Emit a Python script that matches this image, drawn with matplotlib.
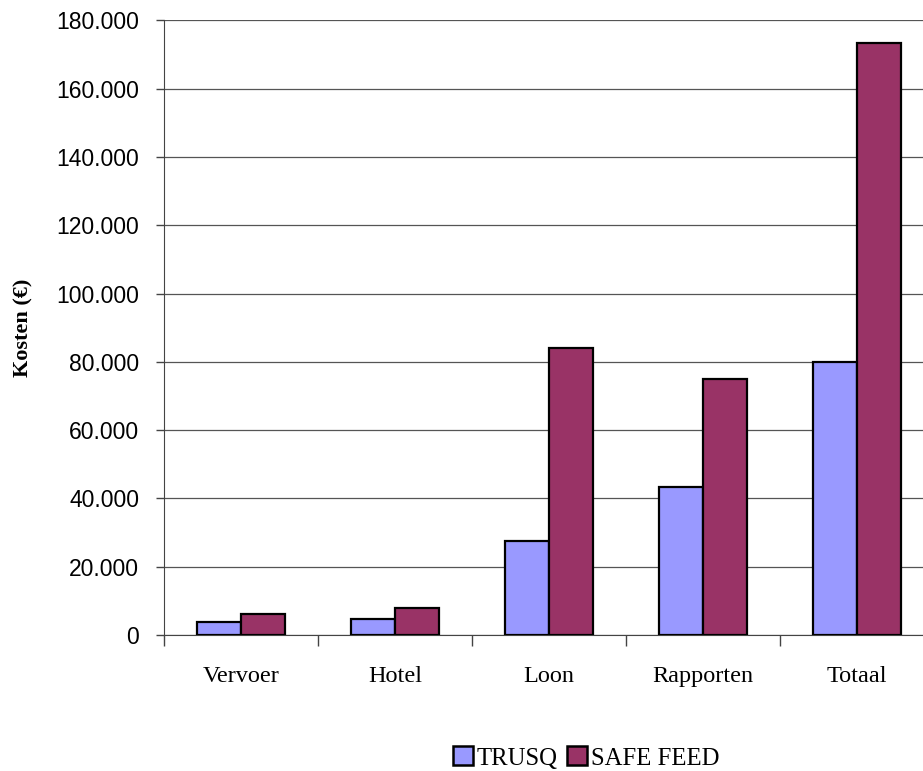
import matplotlib
matplotlib.use("Agg")
import matplotlib.pyplot as plt
import numpy as np
from matplotlib.ticker import FuncFormatter, FixedLocator, NullFormatter
from matplotlib.patches import Patch

categories = ["Vervoer", "Hotel", "Loon", "Rapporten", "Totaal"]
trusq = [3700, 4600, 27600, 43400, 79900]
safe_feed = [6200, 8000, 84000, 74900, 173300]
series_names = ["TRUSQ", "SAFE FEED"]
y_ticks = [0, 20000, 40000, 60000, 80000, 100000, 120000, 140000, 160000, 180000]

W, H = 923, 771
fig = plt.figure(figsize=(W / 100, H / 100), dpi=100)
# plot area in pixels: left 164, right 934 (runs past the edge), top 20.5, bottom 635
ax = fig.add_axes([164 / W, 1 - 635 / H, 770 / W, (635 - 20.5) / H])

x = np.arange(len(categories)) + 0.5
bw = 1 / 3.5
ax.bar(x - bw / 2, trusq, bw, color="#9999FF", edgecolor="black", linewidth=1.6, zorder=3)
ax.bar(x + bw / 2, safe_feed, bw, color="#993366", edgecolor="black", linewidth=1.6, zorder=3)

ax.set_xlim(0, len(categories))
ax.set_ylim(0, 180000)

ax.yaxis.set_major_locator(FixedLocator(y_ticks))
ax.yaxis.set_major_formatter(FuncFormatter(lambda v, p: f"{v:,.0f}".replace(",", ".")))
ax.grid(axis="y", color="#555555", linewidth=0.9, zorder=0)

# category separators as ticks, labels centred in each category
ax.xaxis.set_major_locator(FixedLocator(np.arange(len(categories) + 1)))
ax.xaxis.set_major_formatter(NullFormatter())
ax.xaxis.set_minor_locator(FixedLocator(x))
ax.xaxis.set_minor_formatter(FuncFormatter(lambda v, p: categories[int(v)]))
ax.tick_params(axis="x", which="minor", length=0, pad=22,
               labelsize=17.5, labelfontfamily="Liberation Serif")
ax.tick_params(axis="x", which="major", length=8, width=1, color="#444444", direction="out")
ax.tick_params(axis="y", length=6, width=1, color="#444444", pad=12, direction="out",
               labelsize=16.5, labelfontfamily="Liberation Sans")

for side in ["top", "right"]:
    ax.spines[side].set_visible(False)
ax.spines["left"].set_color("#444444")
ax.spines["bottom"].set_color("#444444")

fig.text(23 / W, 1 - 328 / H, "Kosten (€)", rotation=90, ha="center", va="center",
         fontfamily="Liberation Serif", fontweight="bold", fontsize=16)

handles = [Patch(facecolor="#9999FF", edgecolor="black", linewidth=1.8),
           Patch(facecolor="#993366", edgecolor="black", linewidth=1.8)]
fig.legend(handles, series_names, loc="center", bbox_to_anchor=(586 / W, 1 - 758 / H),
           ncol=2, frameon=False, handlelength=0.8, handleheight=0.8,
           handletextpad=0.15, columnspacing=0.4,
           prop={"family": "Liberation Serif", "size": 17.8})

fig.savefig("out.png", dpi=100)
